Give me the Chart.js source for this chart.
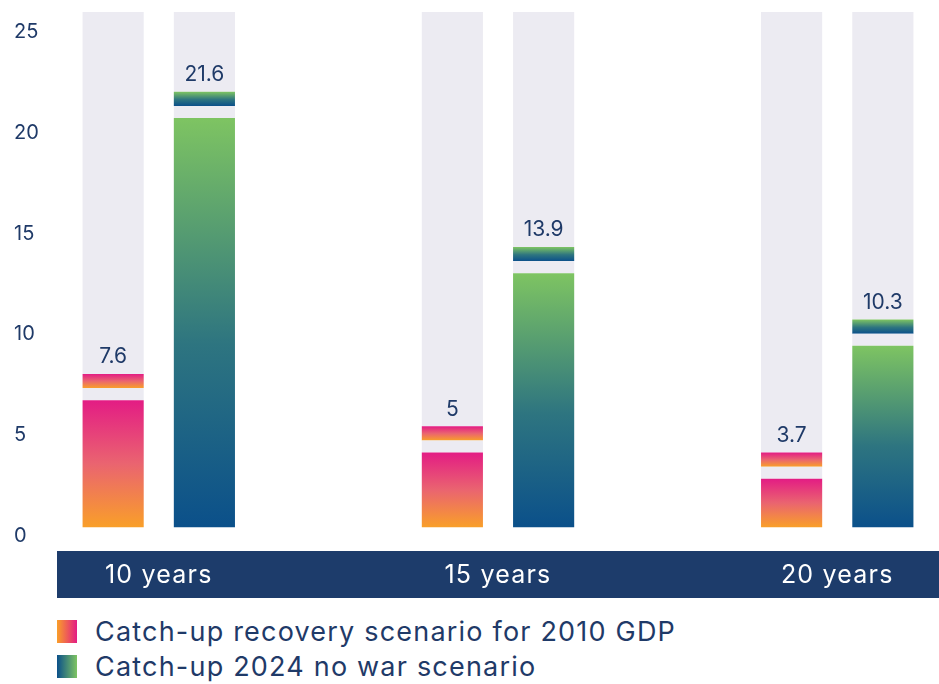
<!DOCTYPE html>
<html>
<head>
<meta charset="utf-8">
<script src="https://cdn.jsdelivr.net/npm/chart.js@4/dist/chart.umd.min.js"></script>
<style>
  html, body { margin: 0; padding: 0; background: #fff; }
  body { width: 939px; height: 684px; position: relative; overflow: hidden; font-family: Inter, sans-serif; }
  #wrap { position: absolute; left: 0; top: 0; width: 939px; height: 610px; }
  #legend { position: absolute; left: 57px; top: 614px; color: #1f3a68; font-size: 27px; letter-spacing: 1.2px; }
  .item { display: flex; align-items: center; height: 35px; }
  .swatch { width: 20px; height: 23px; margin-right: 18px; }
</style>
</head>
<body>
<div id="wrap"><canvas id="chart"></canvas></div>
<div id="legend"></div>
<script>
const categories = ["10 years", "15 years", "20 years"];
const recoveryValues = [7.6, 5, 3.7];
const noWarValues = [21.6, 13.9, 10.3];
const yTicks = [0, 5, 10, 15, 20, 25];
const seriesLabels = ["Catch-up recovery scenario for 2010 GDP", "Catch-up 2024 no war scenario"];

// each bar is a body, a small gap and a cap ending at the value,
// with a light track filling the column up to the top
const CAP = 0.7;
const GAP = 0.6;
const AXIS_MAX = 26;
const BAR_SHIFT = 0.44; // bars stand a little above the tick zero
const TRACK_TOP = AXIS_MAX - BAR_SHIFT;

const FONT = "Inter";
const NAVY = "#1f3a68";
const TRACK = "#ecebf2";
const pinkStops = [[0, "#e31c84"], [0.5, "#ea6470"], [1, "#f99f29"]];
const greenStops = [[0, "#7ec462"], [0.55, "#2e7580"], [1, "#0b508a"]];

function barGradient(stops, values, part) {
    return (ctx) => {
        const chart = ctx.chart;
        const scale = chart.scales.yb;
        if (!chart.chartArea || !scale || ctx.type !== "data") {
            return stops[0][1];
        }
        const v = values[ctx.dataIndex];
        const lo = part === "cap" ? v - CAP : 0;
        const hi = part === "cap" ? v : v - CAP - GAP;
        const top = scale.getPixelForValue(hi);
        const bottom = scale.getPixelForValue(lo);
        if (!Number.isFinite(top) || !Number.isFinite(bottom) || top === bottom) {
            return stops[0][1];
        }
        const g = chart.ctx.createLinearGradient(0, top, 0, bottom);
        stops.forEach(([o, c]) => g.addColorStop(o, c));
        return g;
    };
}

function seriesDatasets(values, stops, stack) {
    const common = { stack, yAxisID: "yb" };
    return [
        {
            ...common,
            data: values.map((v, i) => ({ x: i, y: v - CAP - GAP })),
            backgroundColor: barGradient(stops, values, "body"),
        },
        {
            ...common,
            data: values.map((v, i) => ({ x: i, y: GAP })),
            backgroundColor: TRACK,
        },
        {
            ...common,
            data: values.map((v, i) => ({ x: i, y: CAP })),
            backgroundColor: barGradient(stops, values, "cap"),
            values,
        },
        {
            ...common,
            data: values.map((v, i) => ({ x: i, y: TRACK_TOP - v })),
            backgroundColor: TRACK,
        },
    ];
}

// dark band behind the category labels; those labels get a little tracking
const band = {
    id: "band",
    beforeDraw(chart) {
        const { ctx, chartArea } = chart;
        ctx.save();
        ctx.fillStyle = "#1d3c6b";
        ctx.fillRect(chartArea.left, chartArea.bottom + 15, chartArea.right - chartArea.left, 47);
        ctx.restore();

        const xs = chart.scales.x;
        if (!xs._tracked) {
            const drawLabels = xs.drawLabels.bind(xs);
            xs.drawLabels = (area) => {
                ctx.letterSpacing = "1.2px";
                drawLabels(area);
                ctx.letterSpacing = "0px";
            };
            xs._tracked = true;
        }
    },
};

const valueLabels = {
    id: "valueLabels",
    afterDatasetsDraw(chart) {
        const ctx = chart.ctx;
        ctx.save();
        ctx.fillStyle = NAVY;
        ctx.font = `21px "${FONT}"`;
        ctx.textAlign = "center";
        ctx.textBaseline = "middle";
        chart.data.datasets.forEach((ds, di) => {
            if (!ds.values) {
                return;
            }
            chart.getDatasetMeta(di).data.forEach((bar, i) => {
                ctx.fillText(String(ds.values[i]), bar.x, bar.y - 17);
            });
        });
        ctx.restore();
    },
};

new Chart(document.getElementById("chart"), {
    type: "bar",
    data: {
        datasets: [
            ...seriesDatasets(recoveryValues, pinkStops, "recovery"),
            ...seriesDatasets(noWarValues, greenStops, "nowar"),
        ],
    },
    options: {
        responsive: true,
        maintainAspectRatio: false,
        animation: false,
        categoryPercentage: 0.538,
        barPercentage: 0.67,
        layout: { padding: { top: 7, left: 14, right: 0, bottom: 0 } },
        plugins: { legend: { display: false }, tooltip: { enabled: false } },
        scales: {
            x: {
                type: "linear",
                min: -0.3,
                max: 2.3,
                offset: false,
                position: "bottom",
                grid: { display: false, drawTicks: false },
                border: { display: false },
                afterBuildTicks: (axis) => { axis.ticks = categories.map((c, i) => ({ value: i })); },
                afterFit: (axis) => { axis.height = 74; },
                ticks: {
                    color: "#ffffff",
                    font: { family: FONT, size: 25 },
                    padding: 24,
                    maxRotation: 0,
                    autoSkip: false,
                    callback: (v) => categories[v] ?? "",
                },
            },
            y: {
                position: "left",
                min: 0,
                max: AXIS_MAX,
                grid: { display: false, drawTicks: false },
                border: { display: false },
                afterBuildTicks: (axis) => { axis.ticks = yTicks.map((v) => ({ value: v })); },
                afterFit: (axis) => { axis.width = 43; },
                ticks: {
                    color: NAVY,
                    font: { family: FONT, size: 20 },
                    crossAlign: "far",
                    padding: 0,
                },
            },
            yb: {
                display: false,
                stacked: true,
                min: -BAR_SHIFT,
                max: TRACK_TOP,
            },
        },
    },
    plugins: [band, valueLabels],
});

const legendStops = [
    "linear-gradient(to right, #f99f29, #e31c84)",
    "linear-gradient(to right, #0b508a, #7ec462)",
];
document.getElementById("legend").innerHTML = seriesLabels.map((label, i) =>
    `<div class="item"><span class="swatch" style="background:${legendStops[i]}"></span><span>${label}</span></div>`
).join("");
</script>
</body>
</html>
